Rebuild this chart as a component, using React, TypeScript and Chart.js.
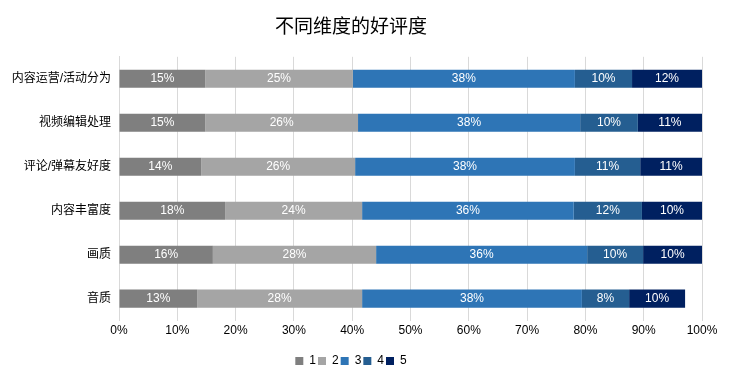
import React, { useEffect, useRef } from "react";
import { Chart, registerables } from "chart.js";

Chart.register(...registerables);

const categories = ["内容运营/活动分为", "视频编辑处理", "评论/弹幕友好度", "内容丰富度", "画质", "音质"];
const seriesNames = ["1", "2", "3", "4", "5"];
const s1 = [14.8, 14.8, 14.1, 18.2, 16.1, 13.4];
const s2 = [25.3, 26.2, 26.4, 23.5, 28.0, 28.3];
const s3 = [38.1, 38.1, 37.7, 36.3, 36.2, 37.7];
const s4 = [9.8, 9.9, 11.2, 11.7, 9.6, 8.1];
const s5 = [12.0, 11.0, 10.6, 10.3, 10.1, 9.6];
const xTicks = [0, 10, 20, 30, 40, 50, 60, 70, 80, 90, 100];
const colors = ["#7f7f7f", "#a5a5a5", "#2e75b6", "#255e91", "#002060"];

const FONT = "'Liberation Sans', 'Noto Sans CJK SC', sans-serif";

const labelPlugin = {
  id: "segLabels",
  afterDatasetsDraw(chart: any) {
    const ctx = chart.ctx;
    ctx.save();
    ctx.font = `12px ${FONT}`;
    ctx.fillStyle = "#ffffff";
    ctx.textAlign = "center";
    ctx.textBaseline = "middle";
    chart.data.datasets.forEach((ds: any, i: number) => {
      const meta = chart.getDatasetMeta(i);
      meta.data.forEach((el: any, j: number) => {
        const v = ds.data[j];
        const cx = (el.x + el.base) / 2;
        ctx.fillText(Math.round(v) + "%", cx, el.y);
      });
    });
    ctx.restore();
  },
};

export default function App() {
  const ref = useRef<HTMLCanvasElement | null>(null);
  useEffect(() => {
    if (!ref.current) return;
    const data = [s1, s2, s3, s4, s5];
    const chart = new Chart(ref.current, {
      type: "bar",
      data: {
        labels: categories,
        datasets: seriesNames.map((n, i) => ({
          label: n,
          data: data[i],
          backgroundColor: colors[i],
          borderWidth: 0,
          categoryPercentage: 0.41,
          barPercentage: 1,
        })),
      },
      options: {
        indexAxis: "y",
        animation: false,
        responsive: false,
        layout: { padding: { left: 0, right: 30, top: 0, bottom: 2 } },
        scales: {
          x: {
            stacked: true,
            min: 0,
            max: 100,
            afterBuildTicks: (scale: any) => {
              scale.ticks = xTicks.map((v) => ({ value: v }));
            },
            afterFit: (scale: any) => {
              scale.height += 12;
            },
            ticks: {
              callback: (v: any) => v + "%",
              color: "#000000",
              font: { size: 12, family: FONT },
              padding: 3,
              maxRotation: 0,
            },
            grid: { color: "#d9d9d9", drawTicks: false },
            border: { display: false },
          },
          y: {
            stacked: true,
            afterFit: (scale: any) => {
              scale.width = 119;
            },
            ticks: {
              color: "#000000",
              font: { size: 12, family: FONT },
              padding: 8,
            },
            grid: { display: false, drawTicks: false },
            border: { display: true, color: "#d9d9d9" },
          },
        },
        plugins: {
          title: {
            display: true,
            text: "不同维度的好评度",
            color: "#000000",
            font: { size: 19, weight: "normal", family: FONT },
            padding: { top: 16, bottom: 18 },
          },
          legend: {
            position: "bottom",
            labels: {
              usePointStyle: true,
              pointStyle: "rect",
              boxWidth: 8,
              boxHeight: 8,
              padding: 2,
              color: "#000000",
              font: { size: 12, family: FONT },
            },
          },
          tooltip: { enabled: false },
        },
      },
      plugins: [labelPlugin],
    } as any);
    return () => chart.destroy();
  }, []);
  return (
    <div style={{ position: "fixed", left: 0, top: 0, width: 732, height: 379, background: "#fff" }}>
      <canvas ref={ref} width={732} height={379} style={{ width: 732, height: 379 }} />
    </div>
  );
}
